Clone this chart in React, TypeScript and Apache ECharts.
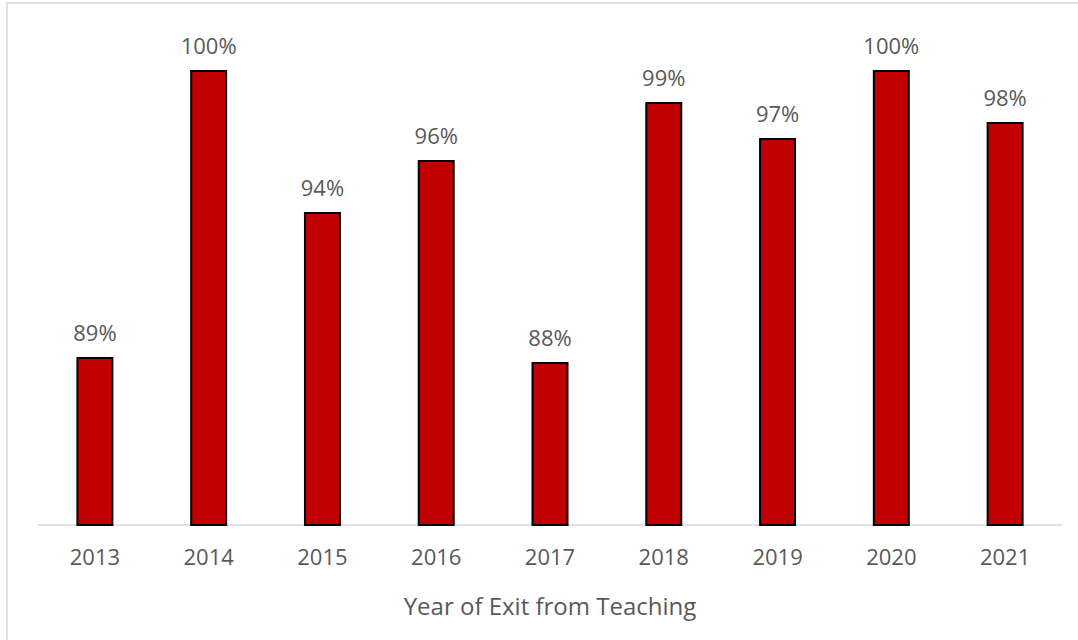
import React, { useEffect, useRef } from "react";
import * as echarts from "echarts";

const years = ["2013", "2014", "2015", "2016", "2017", "2018", "2019", "2020", "2021"];
const shares = [0.8865, 1.0, 0.9438, 0.9644, 0.8845, 0.9873, 0.9731, 1.0, 0.9794];
const axisTitle = "Year of Exit from Teaching";

const FONT = "'Open Sans', 'DejaVu Sans', sans-serif";
const TEXT = "#595959";

export default function App() {
  const ref = useRef<HTMLDivElement>(null);
  useEffect(() => {
    if (!ref.current) return;
    const chart = echarts.init(ref.current, null, { renderer: "svg" });
    chart.setOption({
      animation: false,
      backgroundColor: "#ffffff",
      grid: { left: 38, right: 16, top: 70, bottom: 115, containLabel: false },
      graphic: [
        {
          type: "rect",
          shape: { x: 7, y: 3, width: 1100, height: 700 },
          style: { fill: "none", stroke: "#d9d9d9", lineWidth: 1.5 },
          silent: true,
        },
      ],
      xAxis: {
        type: "category",
        data: years,
        name: axisTitle,
        nameLocation: "middle",
        nameGap: 68,
        nameTextStyle: { fontFamily: FONT, fontSize: 24, color: TEXT },
        axisLine: { lineStyle: { color: "#d9d9d9", width: 1.5 } },
        axisTick: { show: false },
        axisLabel: { fontFamily: FONT, fontSize: 22, color: TEXT, margin: 20 },
      },
      yAxis: {
        type: "value",
        min: 0.82,
        max: 1.0,
        show: false,
        splitLine: { show: false },
      },
      series: [
        {
          type: "bar",
          data: shares,
          barWidth: "32.5%",
          itemStyle: { color: "#c00000", borderColor: "#000000", borderWidth: 2 },
          label: {
            show: true,
            position: "top",
            distance: 14,
            fontFamily: FONT,
            fontSize: 22,
            color: TEXT,
            formatter: (p: any) => Math.round(p.value * 100) + "%",
          },
        },
      ],
    });
    return () => chart.dispose();
  }, []);
  return (
    <div
      ref={ref}
      style={{ position: "absolute", left: 0, top: 0, width: 1078, height: 640 }}
    />
  );
}
